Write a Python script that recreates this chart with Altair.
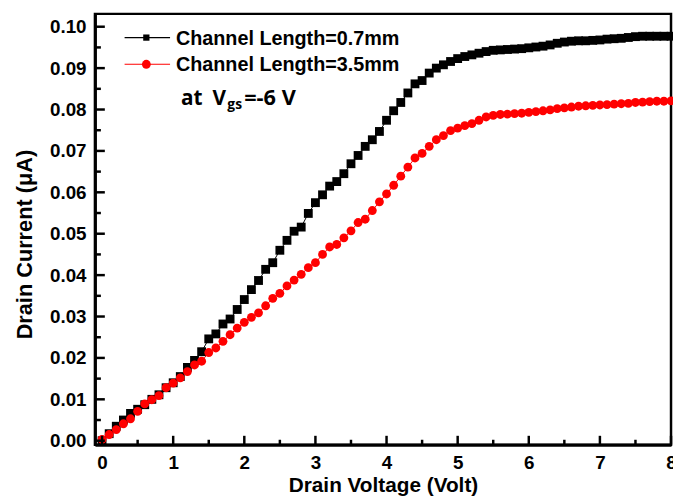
import altair as alt
import pandas as pd

# ---- data ----
series_names = ["Channel Length=0.7mm", "Channel Length=3.5mm"]
series_colors = ["#000000", "#ff0000"]
series_shapes = ["square", "circle"]

voltage = [0.0, 0.1, 0.2, 0.3, 0.4, 0.5, 0.6, 0.7, 0.8, 0.9,
           1.0, 1.1, 1.2, 1.3, 1.4, 1.5, 1.6, 1.7, 1.8, 1.9,
           2.0, 2.1, 2.2, 2.3, 2.4, 2.5, 2.6, 2.7, 2.8, 2.9,
           3.0, 3.1, 3.2, 3.3, 3.4, 3.5, 3.6, 3.7, 3.8, 3.9,
           4.0, 4.1, 4.2, 4.3, 4.4, 4.5, 4.6, 4.7, 4.8, 4.9,
           5.0, 5.1, 5.2, 5.3, 5.4, 5.5, 5.6, 5.7, 5.8, 5.9,
           6.0, 6.1, 6.2, 6.3, 6.4, 6.5, 6.6, 6.7, 6.8, 6.9,
           7.0, 7.1, 7.2, 7.3, 7.4, 7.5, 7.6, 7.7, 7.8, 7.9, 8.0]

current_07mm = [0.0000, 0.0017, 0.0035, 0.0050, 0.0066, 0.0076, 0.0087, 0.0100, 0.0111, 0.0128,
                0.0140, 0.0155, 0.0177, 0.0194, 0.0215, 0.0246, 0.0258, 0.0282, 0.0294, 0.0317,
                0.0341, 0.0365, 0.0387, 0.0414, 0.0430, 0.0460, 0.0484, 0.0506, 0.0516, 0.0549,
                0.0575, 0.0594, 0.0615, 0.0626, 0.0645, 0.0669, 0.0689, 0.0711, 0.0727, 0.0747,
                0.0774, 0.0797, 0.0817, 0.0840, 0.0862, 0.0870, 0.0888, 0.0900, 0.0908, 0.0916,
                0.0923, 0.0928, 0.0932, 0.0936, 0.0940, 0.0943, 0.0944, 0.0945, 0.0946, 0.0947,
                0.0949, 0.0951, 0.0953, 0.0956, 0.0960, 0.0963, 0.0965, 0.0966, 0.0966, 0.0967,
                0.0968, 0.0970, 0.0971, 0.0972, 0.0974, 0.0976, 0.0977, 0.0977, 0.0977, 0.0977, 0.0977]

current_35mm = [0.0003, 0.0015, 0.0027, 0.0041, 0.0053, 0.0071, 0.0089, 0.0099, 0.0109, 0.0128,
                0.0139, 0.0152, 0.0167, 0.0183, 0.0192, 0.0213, 0.0224, 0.0240, 0.0256, 0.0272,
                0.0286, 0.0298, 0.0309, 0.0326, 0.0344, 0.0356, 0.0374, 0.0388, 0.0402, 0.0418,
                0.0430, 0.0450, 0.0468, 0.0474, 0.0490, 0.0507, 0.0527, 0.0535, 0.0556, 0.0577,
                0.0596, 0.0617, 0.0639, 0.0661, 0.0683, 0.0694, 0.0711, 0.0727, 0.0737, 0.0749,
                0.0755, 0.0761, 0.0766, 0.0774, 0.0782, 0.0786, 0.0788, 0.0789, 0.0790, 0.0791,
                0.0793, 0.0795, 0.0797, 0.0799, 0.0802, 0.0804, 0.0806, 0.0808, 0.0809, 0.0810,
                0.0811, 0.0812, 0.0813, 0.0814, 0.0815, 0.0817, 0.0818, 0.0819, 0.0820, 0.0820, 0.0821]

x_major_ticks = [0, 1, 2, 3, 4, 5, 6, 7, 8]
x_minor_ticks = [0.5, 1.5, 2.5, 3.5, 4.5, 5.5, 6.5, 7.5]
y_major_ticks = [0.00, 0.01, 0.02, 0.03, 0.04, 0.05, 0.06, 0.07, 0.08, 0.09, 0.10]
y_minor_ticks = [0.005, 0.015, 0.025, 0.035, 0.045, 0.055, 0.065, 0.075, 0.085, 0.095]

x_title = "Drain Voltage (Volt)"
y_title = "Drain Current (\u03bcA)"

# annotation pieces: text, size, x, baseline y (pixels inside plot area)
annotation = [("at", 21, 87, 92), ("V", 21, 119, 92), ("gs", 14, 134, 96),
              ("=-6 V", 22, 151, 92)]

# ---- tables ----
df = pd.DataFrame({
    "Voltage": voltage * 2,
    "Current": current_07mm + current_35mm,
    "Series": [series_names[0]] * len(voltage) + [series_names[1]] * len(voltage),
})

W, H = 583, 436
FONT = "Liberation Sans"

xscale = alt.Scale(domain=[-0.1, 8.0], nice=False, zero=False)
yscale = alt.Scale(domain=[-0.00096, 0.1031], nice=False, zero=False)

xaxis = alt.Axis(values=x_major_ticks, format="d", title=x_title, tickSize=0,
                 labelPadding=9, domainWidth=3, domainColor="black",
                 labelFont=FONT, labelFontSize=19, labelFontWeight="bold", labelColor="black",
                 titleFont=FONT, titleFontSize=21, titleFontWeight="bold", titleColor="black",
                 titleX=W / 2, titleY=47, titleBaseline="alphabetic", titleAlign="center",
                 grid=False, zindex=1, labelFlush=False)
yaxis = alt.Axis(values=y_major_ticks, format=".2f", title=y_title, tickSize=0,
                 labelPadding=9, domainWidth=3, domainColor="black",
                 labelFont=FONT, labelFontSize=19, labelFontWeight="bold", labelColor="black",
                 titleFont=FONT, titleFontSize=22, titleFontWeight="bold", titleColor="black",
                 titleX=-64, titleY=233, titleAngle=270, titleBaseline="alphabetic",
                 titleAlign="center", grid=False, zindex=1, labelFlush=False)

X = alt.X("Voltage:Q", scale=xscale, axis=xaxis)
Y = alt.Y("Current:Q", scale=yscale, axis=yaxis)

color = alt.Color("Series:N", scale=alt.Scale(domain=series_names, range=series_colors), legend=None)
shape = alt.Shape("Series:N", scale=alt.Scale(domain=series_names, range=series_shapes), legend=None)

base = alt.Chart(df)
lines = base.mark_line(strokeWidth=1).encode(x=X, y=Y, color=color, detail="Series:N")
points = base.mark_point(filled=True, opacity=1, size=80).encode(x=X, y=Y, color=color, shape=shape)

# inward tick marks
xmaj = alt.Chart(pd.DataFrame({"Voltage": x_major_ticks})).mark_rule(color="black", strokeWidth=2.5).encode(
    x=X, y=alt.value(H), y2=alt.value(H - 9))
xmin = alt.Chart(pd.DataFrame({"Voltage": x_minor_ticks})).mark_rule(color="black", strokeWidth=2.5).encode(
    x=X, y=alt.value(H), y2=alt.value(H - 5))
ymaj = alt.Chart(pd.DataFrame({"Current": y_major_ticks})).mark_rule(color="black", strokeWidth=2.5).encode(
    y=Y, x=alt.value(0), x2=alt.value(10))
ymin = alt.Chart(pd.DataFrame({"Current": y_minor_ticks})).mark_rule(color="black", strokeWidth=2.5).encode(
    y=Y, x=alt.value(0), x2=alt.value(6))

# manual legend
one = pd.DataFrame({"k": [0]})
leg = []
for i, (name, col, shp) in enumerate(zip(series_names, series_colors, series_shapes)):
    yy = 24 + 27 * i
    leg.append(alt.Chart(one).mark_rule(color=col, strokeWidth=1.2).encode(
        x=alt.value(30), x2=alt.value(76), y=alt.value(yy)))
    leg.append(alt.Chart(one).mark_point(filled=True, opacity=1, color=col, shape=shp,
                                         size=40 if shp == "square" else 80).encode(
        x=alt.value(52), y=alt.value(yy)))
    leg.append(alt.Chart(one).mark_text(text=name, align="left", baseline="middle", font=FONT,
                                        fontSize=20, fontWeight="bold", color="black").encode(
        x=alt.value(82), y=alt.value(yy + 1)))

ann = []
for txt, fs, ax, ay in annotation:
    ann.append(alt.Chart(one).mark_text(text=txt, align="left", baseline="alphabetic", font="Open Sans",
                                        fontSize=fs, fontWeight="bold", color="black").encode(
        x=alt.value(ax), y=alt.value(ay)))

chart = alt.layer(lines, points, xmaj, xmin, ymaj, ymin, *leg, *ann).properties(
    width=W, height=H,
    autosize=alt.AutoSizeParams(type="none"),
    padding={"left": 88, "top": 3, "right": 2, "bottom": 52},
    background="white",
).configure_view(stroke="black", strokeWidth=2.5)

chart.save("out.html", embed_options={"renderer": "svg", "actions": False})
